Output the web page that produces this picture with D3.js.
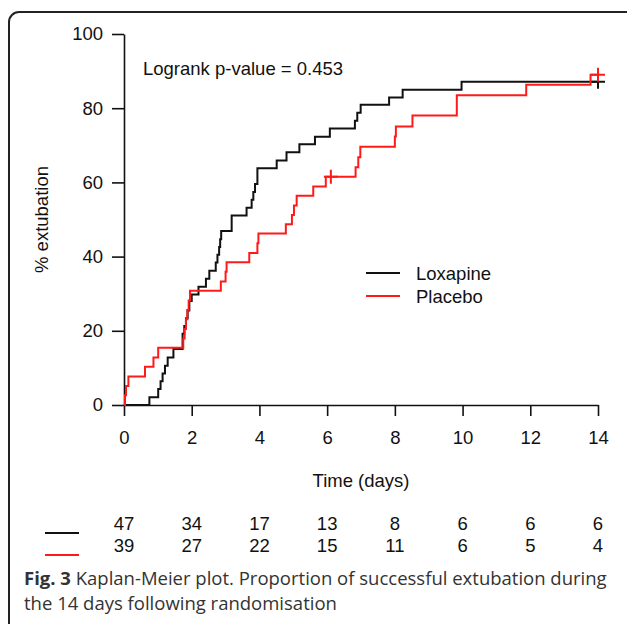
<!DOCTYPE html>
<html>
<head>
<meta charset="utf-8">
<script src="https://cdn.jsdelivr.net/npm/d3@7"></script>
<style>
  body { margin: 0; background: #fff; }
  svg { display: block; }
</style>
</head>
<body>
<svg id="drawing_region"></svg>
<script>
// step data: [time (days), % extubated]
const loxapine = [[0,0],[0.75,2.1],[1.01,4.3],[1.08,6.4],[1.14,8.5],[1.21,10.6],[1.29,12.8],[1.46,15.1],
  [1.73,19.2],[1.78,21.3],[1.83,23.4],[1.88,25.5],[1.93,28.0],[2.0,29.8],[2.2,31.9],[2.42,34.0],[2.52,36.2],
  [2.71,38.4],[2.76,40.5],[2.81,42.6],[2.84,44.7],[2.87,46.9],[3.18,51.1],[3.62,53.2],[3.77,55.3],[3.82,57.4],
  [3.87,59.6],[3.94,63.8],[4.51,65.9],[4.8,68.1],[5.18,70.3],[5.64,72.3],[6.08,74.5],[6.82,76.6],[6.89,78.8],
  [6.99,80.9],[7.83,82.9],[8.23,85.0],[9.97,87.1],[14,87.1]]
const placebo = [[0,0],[0.03,2.6],[0.06,5.1],[0.13,7.7],[0.62,10.3],[0.87,12.8],[1.01,15.4],[1.75,17.9],
  [1.79,20.5],[1.83,23.1],[1.87,25.6],[1.91,28.2],[1.95,30.8],[2.86,33.3],[3.0,35.9],[3.03,38.5],[3.7,41.0],
  [3.94,43.6],[3.97,46.2],[4.78,48.7],[4.96,51.2],[5.02,53.8],[5.1,56.4],[5.59,58.9],[5.96,61.5],[6.84,64.1],
  [6.92,66.8],[6.98,69.6],[8.0,72.4],[8.03,75.1],[8.52,78.0],[9.83,83.5],[11.88,86.3],[13.78,89.0],[14,89.0]]
const loxCensor = [[14,87.1]]
const placeboCensor = [[6.11,61.5],[14,89.0]]

const riskTimes = [0,2,4,6,8,10,12,14]
const loxRisk = [47,34,17,13,8,6,6,6]
const placeboRisk = [39,27,22,15,11,6,5,4]
const yTicks = [0,20,40,60,80,100]

const W = 627, H = 624
const svg = d3.select('#drawing_region').attr('width', W).attr('height', H)

// rounded frame of the figure panel
svg.append('rect')
  .attr('x', 9).attr('y', 12).attr('width', 630).attr('height', 640)
  .attr('rx', 10)
  .attr('fill', 'none').attr('stroke', '#222').attr('stroke-width', 2)

const x = d3.scaleLinear().domain([0,14]).range([124,598])
const y = d3.scaleLinear().domain([0,100]).range([405,34])

const font = 'Liberation Sans, Arial, sans-serif'
const fs = 18.5

const xaxis = d3.axisBottom(x).tickValues(riskTimes).tickSize(11).tickSizeOuter(0).tickPadding(15)
const yaxis = d3.axisLeft(y).tickValues(yTicks).tickSize(12).tickSizeOuter(0).tickPadding(9)

const gx = svg.append('g').attr('transform', `translate(0,${y(0)})`).call(xaxis)
const gy = svg.append('g').attr('transform', `translate(${x(0)},0)`).call(yaxis)
;[gx, gy].forEach(g => {
  g.selectAll('path, line').attr('stroke', '#111').attr('stroke-width', 1.6)
  g.selectAll('text').attr('font-family', font).attr('font-size', fs).attr('fill', '#111')
})

svg.append('text')
  .attr('x', 361).attr('y', 487)
  .attr('text-anchor', 'middle')
  .attr('font-family', font).attr('font-size', fs).attr('fill', '#111')
  .text('Time (days)')

svg.append('text')
  .attr('transform', `translate(48,${y(50)}) rotate(-90)`)
  .attr('text-anchor', 'middle')
  .attr('font-family', font).attr('font-size', fs).attr('fill', '#111')
  .text('% extubation')

svg.append('text')
  .attr('x', 143).attr('y', 75)
  .attr('font-family', font).attr('font-size', fs).attr('fill', '#111')
  .text('Logrank p-value = 0.453')

const step = d3.line().x(d => x(d[0])).y(d => y(d[1])).curve(d3.curveStepAfter)

const series = [
  {name: 'Loxapine', data: loxapine, censor: loxCensor, risk: loxRisk, color: '#111'},
  {name: 'Placebo', data: placebo, censor: placeboCensor, risk: placeboRisk, color: '#ff1a1a'}
]

series.forEach((s, i) => {
  svg.append('path')
    .attr('d', step(s.data))
    .attr('fill', 'none').attr('stroke', s.color).attr('stroke-width', 2)

  const c = svg.append('g')
  c.selectAll('path').data(s.censor).enter().append('path')
    .attr('d', d => `M${x(d[0]) - 7},${y(d[1])}H${x(d[0]) + 7}M${x(d[0])},${y(d[1]) - 7}V${y(d[1]) + 7}`)
    .attr('stroke', s.color).attr('stroke-width', 2).attr('fill', 'none')

  // legend
  const ly = 273 + i * 23
  svg.append('line').attr('x1', 366).attr('x2', 400).attr('y1', ly).attr('y2', ly)
    .attr('stroke', s.color).attr('stroke-width', 2)
  svg.append('text').attr('x', 416).attr('y', ly + 7)
    .attr('font-family', font).attr('font-size', fs).attr('fill', '#111')
    .text(s.name)

  // numbers at risk
  const ry = 523 + i * 22
  svg.append('line').attr('x1', 45).attr('x2', 79).attr('y1', ry + 10).attr('y2', ry + 10)
    .attr('stroke', s.color).attr('stroke-width', 2)
  svg.append('g').selectAll('text').data(s.risk).enter().append('text')
    .attr('x', (d, k) => x(riskTimes[k]))
    .attr('y', ry + 7)
    .attr('text-anchor', 'middle')
    .attr('font-family', font).attr('font-size', fs).attr('fill', '#111')
    .text(d => d)
})

// caption
const cap = svg.append('text')
  .attr('x', 24).attr('y', 585)
  .attr('font-family', 'Open Sans, sans-serif').attr('font-size', 18.5).attr('fill', '#333')
cap.append('tspan').attr('font-weight', 'bold').text('Fig. 3')
cap.append('tspan').text(' Kaplan-Meier plot. Proportion of successful extubation during')
svg.append('text')
  .attr('x', 24).attr('y', 610)
  .attr('font-family', 'Open Sans, sans-serif').attr('font-size', 18.5).attr('fill', '#333')
  .text('the 14 days following randomisation')
</script>
</body>
</html>
